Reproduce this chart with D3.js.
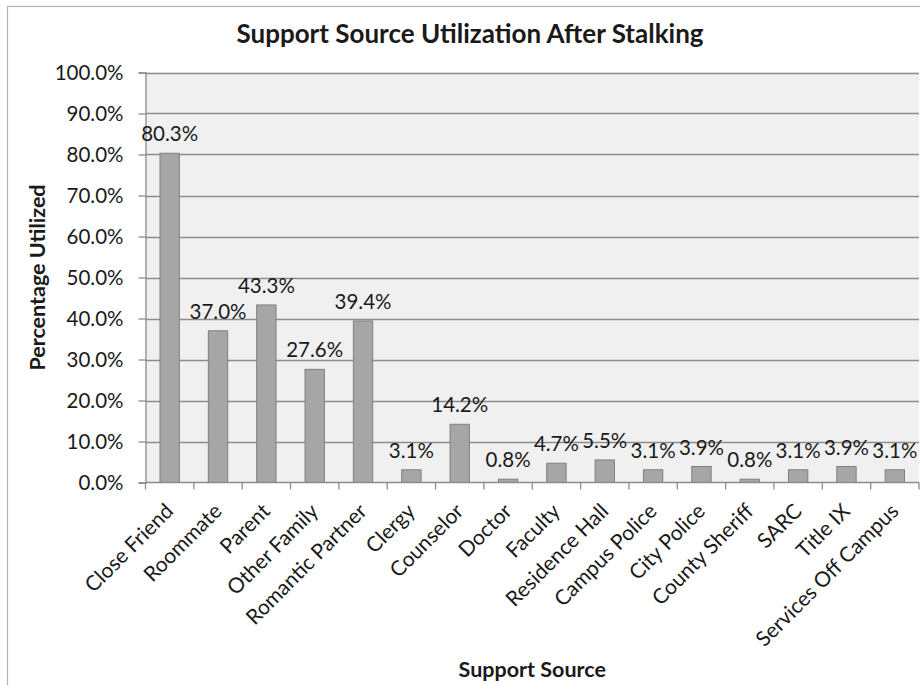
<!DOCTYPE html>
<html>
<head>
<meta charset="utf-8">
<script src="https://cdn.jsdelivr.net/npm/d3@7"></script>
<style>
  html, body { margin: 0; padding: 0; background: #fff; }
  svg { display: block; }
  text { font-family: Lato, "Open Sans", sans-serif; fill: #1a1a1a; }
</style>
</head>
<body>
<svg id="chart" width="920" height="685"></svg>
<script>
// Support sources and share of respondents who used each one (%)
const categories = [
  "Close Friend", "Roommate", "Parent", "Other Family", "Romantic Partner",
  "Clergy", "Counselor", "Doctor", "Faculty", "Residence Hall",
  "Campus Police", "City Police", "County Sheriff", "SARC", "Title IX",
  "Services Off Campus"
];
const values = [80.3, 37.0, 43.3, 27.6, 39.4, 3.1, 14.2, 0.8, 4.7, 5.5, 3.1, 3.9, 0.8, 3.1, 3.9, 3.1];
const yTicks = [0, 10, 20, 30, 40, 50, 60, 70, 80, 90, 100];

const titleText = "Support Source Utilization After Stalking";
const xTitle = "Support Source";
const yTitle = "Percentage Utilized";

const svg = d3.select("#chart");
const plot = { left: 145.5, right: 919, top: 72.5, bottom: 482.5 };
const labelSize = "20.5px";

// outer frame of the chart area
svg.append("rect")
  .attr("x", 7.5).attr("y", 6.5)
  .attr("width", 940).attr("height", 700)
  .attr("fill", "#fff").attr("stroke", "#b3b3b3").attr("stroke-width", 1.2);

const x = d3.scaleBand().domain(categories).range([plot.left, plot.right]).paddingInner(0.6).paddingOuter(0.3);
const xb = d3.scaleBand().domain(categories).range([plot.left, plot.right]);
const y = d3.scaleLinear().domain([0, 100]).range([plot.bottom, plot.top]);

// plot background
svg.append("rect")
  .attr("x", plot.left).attr("y", plot.top)
  .attr("width", plot.right - plot.left).attr("height", plot.bottom - plot.top)
  .attr("fill", "#f0f0f0");

// horizontal gridlines
svg.append("g")
  .selectAll("line")
  .data(yTicks.filter(d => d > 0))
  .join("line")
  .attr("x1", plot.left).attr("x2", plot.right)
  .attr("y1", d => Math.round(y(d)) + 0.5).attr("y2", d => Math.round(y(d)) + 0.5)
  .attr("stroke", "#8c8c8c").attr("stroke-width", 1.3);

// y axis
const yAxis = d3.axisLeft(y)
  .tickValues(yTicks)
  .tickSize(7)
  .tickPadding(15)
  .tickFormat(d => d.toFixed(1) + "%");
const gy = svg.append("g").attr("transform", `translate(${plot.left},0)`).call(yAxis);
gy.select(".domain").attr("stroke", "#8c8c8c").attr("stroke-width", 1.3);
gy.selectAll(".tick line").attr("stroke", "#8c8c8c").attr("stroke-width", 1.3);
gy.selectAll(".tick text").style("font-size", labelSize).style("font-family", "Lato, sans-serif").attr("fill", "#1a1a1a");

// bars
svg.append("g")
  .selectAll("rect")
  .data(values)
  .join("rect")
  .attr("x", (d, i) => x(categories[i]))
  .attr("width", x.bandwidth())
  .attr("y", d => y(d))
  .attr("height", d => y(0) - y(d))
  .attr("fill", "#a6a6a6")
  .attr("stroke", "#7f7f7f")
  .attr("stroke-width", 1);

// x axis with ticks between categories
const xBoundaries = categories.map(c => xb(c)).concat([plot.right]);
const gx = svg.append("g");
gx.append("line")
  .attr("x1", plot.left).attr("x2", plot.right)
  .attr("y1", plot.bottom).attr("y2", plot.bottom)
  .attr("stroke", "#8c8c8c").attr("stroke-width", 1.3);
gx.selectAll("line.tick")
  .data(xBoundaries)
  .join("line")
  .attr("class", "tick")
  .attr("x1", d => d).attr("x2", d => d)
  .attr("y1", plot.bottom).attr("y2", plot.bottom + 7)
  .attr("stroke", "#8c8c8c").attr("stroke-width", 1.3);

// category labels, rotated
gx.selectAll("text")
  .data(categories)
  .join("text")
  .attr("transform", d => `translate(${xb(d) + xb.bandwidth() / 2 + 5},${plot.bottom + 30}) rotate(-45)`)
  .attr("text-anchor", "end")
  .style("font-size", "21px")
  .text(d => d);

// value labels above bars
svg.append("g")
  .selectAll("text")
  .data(values)
  .join("text")
  .attr("x", (d, i) => xb(categories[i]) + xb.bandwidth() / 2)
  .attr("y", d => y(d) - 12)
  .attr("text-anchor", "middle")
  .style("font-size", labelSize)
  .text(d => d.toFixed(1) + "%");

// titles
svg.append("text")
  .attr("x", 470).attr("y", 43)
  .attr("text-anchor", "middle")
  .style("font-size", "26px").style("font-weight", "700")
  .text(titleText);

svg.append("text")
  .attr("x", (plot.left + plot.right) / 2).attr("y", 677)
  .attr("text-anchor", "middle")
  .style("font-size", "21.5px").style("font-weight", "700")
  .text(xTitle);

svg.append("text")
  .attr("transform", `translate(45,${(plot.top + plot.bottom) / 2}) rotate(-90)`)
  .attr("text-anchor", "middle")
  .style("font-size", "21.5px").style("font-weight", "700")
  .text(yTitle);
</script>
</body>
</html>
